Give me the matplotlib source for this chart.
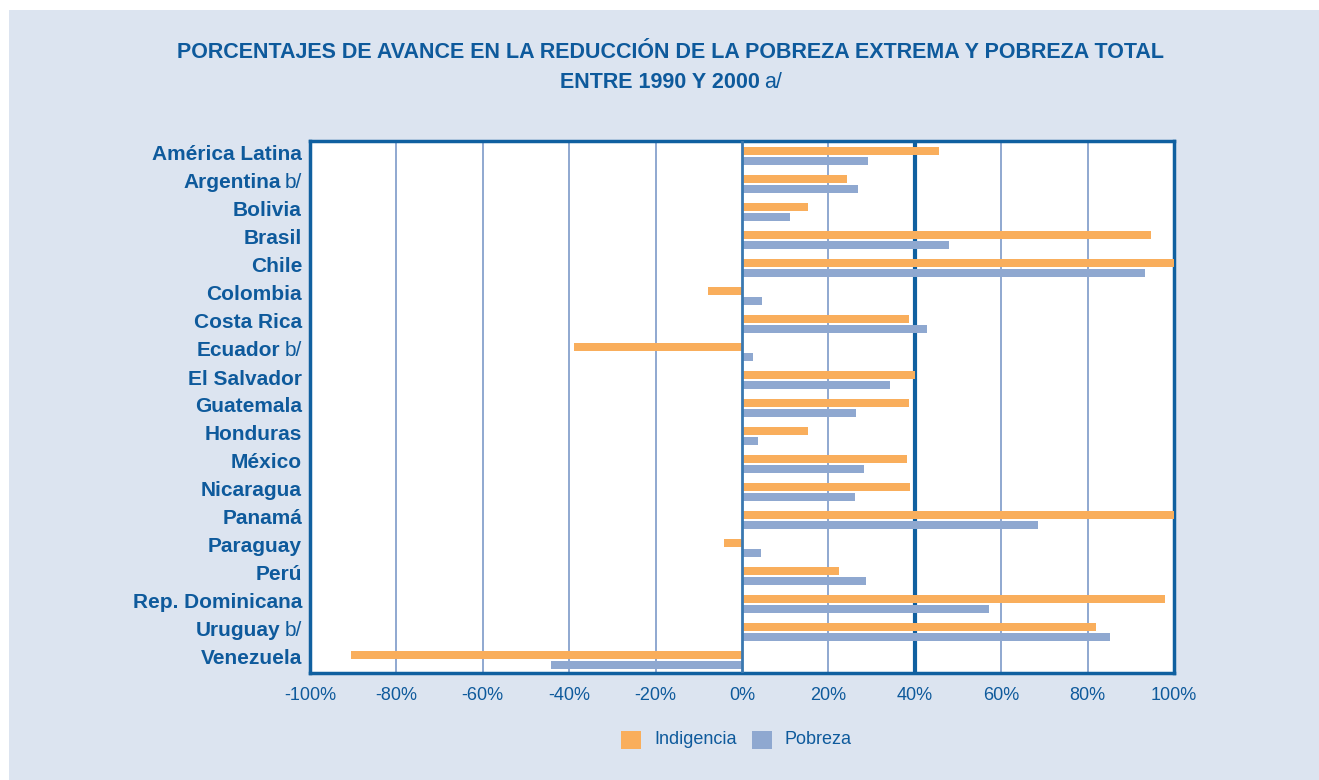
import matplotlib
import matplotlib.pyplot as plt
from matplotlib.patches import Rectangle
import numpy as np

# Avance en la reduccion de la indigencia y la pobreza, 1990-2000 (%)
paises = ['América Latina', 'Argentina', 'Bolivia', 'Brasil', 'Chile', 'Colombia',
          'Costa Rica', 'Ecuador', 'El Salvador', 'Guatemala', 'Honduras', 'México',
          'Nicaragua', 'Panamá', 'Paraguay', 'Perú', 'Rep. Dominicana', 'Uruguay',
          'Venezuela']
notas = ['', 'b/', '', '', '', '', '', 'b/', '', '', '', '', '', '', '', '', '', 'b/', '']
indigencia = [45.5, 24.4, 15.2, 94.7, 100.0, -7.9, 38.7, -39.0, 40.0, 38.7, 15.2, 38.3,
              39.0, 100.0, -4.1, 22.4, 97.9, 82.0, -90.5]
pobreza = [29.1, 26.8, 11.2, 47.9, 93.3, 4.7, 42.8, 2.6, 34.2, 26.3, 3.6, 28.2,
           26.1, 68.5, 4.3, 28.6, 57.1, 85.2, -44.1]
ticks = [-100, -80, -60, -40, -20, 0, 20, 40, 60, 80, 100]

c_ind = '#f9ae5c'
c_pob = '#8fa8d0'
c_txt = '#0e5a9c'
c_dark = '#1060a0'
c_bg = '#dce4f0'
fuente = 'Liberation Sans'

fig = plt.figure(figsize=(13.19, 7.80), dpi=100)
fig.patch.set_facecolor('white')
fig.patches.append(Rectangle((9 / 1319, 0), 1, 1 - 10 / 780, transform=fig.transFigure,
                             facecolor=c_bg, edgecolor='none', zorder=-10))

ax = fig.add_axes([310 / 1319, 1 - 673 / 780, 864 / 1319, 532 / 780])
ax.set_facecolor('white')

y = np.arange(len(paises))
h = 0.27
ax.barh(y - 0.145, indigencia, height=h, color=c_ind, zorder=3)
ax.barh(y + 0.21, pobreza, height=h, color=c_pob, zorder=3)

for t in ticks:
    if t in (-100, 100):
        continue
    if t == 0:
        ax.axvline(t, color='#3a78b0', lw=2, zorder=4)
    elif t == 40:
        ax.axvline(t, color=c_dark, lw=3, zorder=2)
    else:
        ax.axvline(t, color=c_pob, lw=1.4, zorder=2)

ax.set_xlim(-100, 100)
ax.set_ylim(len(paises) - 0.5, -0.5)
ax.set_xticks(ticks)
ax.set_xticklabels(['%d%%' % t for t in ticks], family=fuente, fontsize=13, color=c_txt)
ax.set_yticks([])
ax.tick_params(axis='x', length=0, pad=10)
for s in ax.spines.values():
    s.set_color(c_dark)
    s.set_linewidth(2.5)

# etiquetas de pais: nombre en negrita y nota en normal
fig.canvas.draw()
r = fig.canvas.get_renderer()
W = fig.bbox.width
xl = 302 / 1319
for i, (p, n) in enumerate(zip(paises, notas)):
    yy = ax.transData.transform((0, i))[1] / fig.bbox.height
    off = 0
    if n:
        tn = fig.text(xl, yy, n, ha='right', va='center', fontsize=15,
                      family=fuente, color=c_txt)
        off = (tn.get_window_extent(r).width + 4) / W
    fig.text(xl - off, yy, p, ha='right', va='center', fontsize=15, fontweight='bold',
             family=fuente, color=c_txt)

# titulo
fig.text(671 / 1319, 1 - 52 / 780,
         'PORCENTAJES DE AVANCE EN LA REDUCCIÓN DE LA POBREZA EXTREMA Y POBREZA TOTAL',
         ha='center', va='center', fontsize=15.5, fontweight='bold', family=fuente, color=c_txt)
ta = fig.text(0, 1 - 82 / 780, 'ENTRE 1990 Y 2000', ha='left', va='center', fontsize=15.5,
              fontweight='bold', family=fuente, color=c_txt)
tb = fig.text(0, 1 - 82 / 780, 'a/', ha='left', va='center', fontsize=15.5,
              family=fuente, color=c_txt)
wa = ta.get_window_extent(r).width
wb = tb.get_window_extent(r).width
x0 = 671 - (wa + wb + 5) / 2
ta.set_x(x0 / W)
tb.set_x((x0 + wa + 5) / W)

# leyenda
ly = 1 - 740 / 780
fig.patches.append(Rectangle((621 / 1319, ly - 9 / 780), 20 / 1319, 18 / 780,
                             transform=fig.transFigure, facecolor=c_ind, edgecolor='none'))
fig.text(654 / 1319, ly, 'Indigencia', ha='left', va='center', fontsize=13,
         family=fuente, color=c_txt)
fig.patches.append(Rectangle((752 / 1319, ly - 9 / 780), 20 / 1319, 18 / 780,
                             transform=fig.transFigure, facecolor=c_pob, edgecolor='none'))
fig.text(785 / 1319, ly, 'Pobreza', ha='left', va='center', fontsize=13,
         family=fuente, color=c_txt)

fig.savefig('out.png', dpi=100)
